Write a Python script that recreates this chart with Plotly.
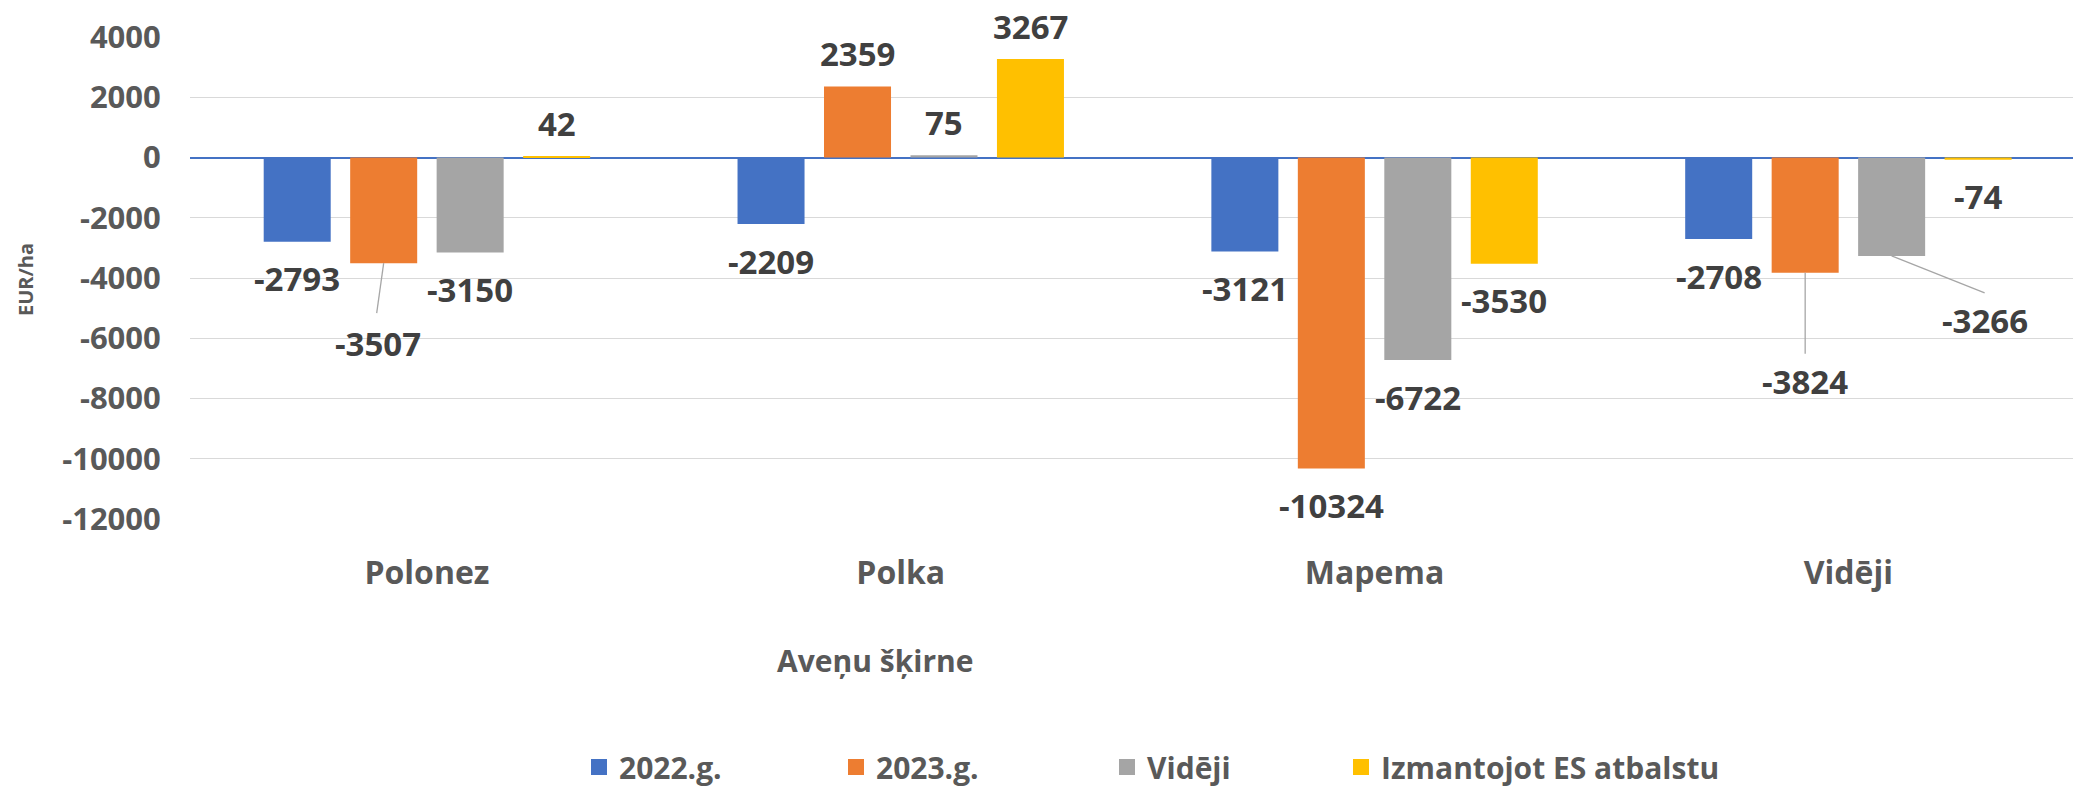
import plotly.graph_objects as go

categories = ["Polonez", "Polka", "Mapema", "Vidēji"]
series_names = ["2022.g.", "2023.g.", "Vidēji", "Izmantojot ES atbalstu"]
v_2022 = [-2793, -2209, -3121, -2708]
v_2023 = [-3507, 2359, -10324, -3824]
v_videji = [-3150, 75, -6722, -3266]
v_es = [42, 3267, -3530, -74]
y_ticks = [4000, 2000, 0, -2000, -4000, -6000, -8000, -10000, -12000]
y_tick_labels = [str(v) for v in y_ticks]

series_values = [v_2022, v_2023, v_videji, v_es]
colors = ["#4472C4", "#ED7D31", "#A5A5A5", "#FFC000"]

W, H = 2073, 787
ML, MR, MT, MB = 190, 0, 37, 268
PW, PH = W - ML - MR, H - MT - MB
BARGAP = 0.27
BARGROUPGAP = 0.225
n_series = len(series_values)
slot = (1 - BARGAP) / n_series


def px_to_paper(px, py):
    return (px - ML) / PW, (H - MB - py) / PH


# legend symbol centres (px) and vertical centre
legend_x_px = [598, 855, 1126, 1360]
legend_y_px = 767
LEGEND_SYMBOL_OFFSET = 19

# custom label placement (pixel offsets) for labels with leader lines
special = {
    (1, 0): dict(xshift=-6, yshift=-80, line=(0, 0, -7, -50)),
    (1, 3): dict(xshift=0, yshift=-109, line=(0, 0, 0, -81)),
    (2, 3): dict(xshift=93, yshift=-65, line=(0, 0, 93, -37)),
}

legend_font = dict(family="Open Sans", size=30, color="#595959", weight=700)

fig = go.Figure()
legend_layouts = {}
for k, (name, vals) in enumerate(zip(series_names, series_values)):
    fig.add_trace(go.Bar(
        x=categories, y=vals, name=name, marker_color=colors[k],
        marker_line_width=0, showlegend=False,
    ))
    lname = "legend" if k == 0 else f"legend{k + 1}"
    fig.add_trace(go.Scatter(
        x=[None], y=[None], mode="markers", name=name,
        marker=dict(symbol="square", size=19, color=colors[k]),
        showlegend=True, legend=lname,
    ))
    legend_layouts[lname] = dict(
        orientation="h", xref="container", yref="container",
        x=(legend_x_px[k] - LEGEND_SYMBOL_OFFSET) / W, xanchor="left",
        y=1 - legend_y_px / H, yanchor="middle",
        font=legend_font, itemwidth=30, bgcolor="rgba(0,0,0,0)",
    )

label_font = dict(family="Open Sans", size=33, color="#404040", weight=700)
annotations = []
shapes = []
for k, vals in enumerate(series_values):
    for i, v in enumerate(vals):
        xpos = i + (k - (n_series - 1) / 2) * slot
        if (k, i) in special:
            sp = special[(k, i)]
            xs, ys = sp["xshift"], sp["yshift"]
            x0, y0, x1, y1 = sp["line"]
            shapes.append(dict(
                type="line", xref="x", yref="y",
                xsizemode="pixel", ysizemode="pixel",
                xanchor=xpos, yanchor=v,
                x0=x0, y0=y0, x1=x1, y1=y1,
                line=dict(color="#A6A6A6", width=1.3),
            ))
        else:
            xs = 0
            ys = 33 if v >= 0 else -37
        annotations.append(dict(
            x=xpos, y=v, xref="x", yref="y", text=str(v),
            showarrow=False, xanchor="center", yanchor="middle",
            xshift=xs, yshift=ys, font=label_font,
        ))

tx, ty = px_to_paper(25, 280)
annotations.append(dict(
    text="EUR/ha", xref="paper", yref="paper", x=tx, y=ty,
    textangle=-90, showarrow=False, xanchor="center", yanchor="middle",
    font=dict(family="Open Sans", size=20, color="#595959", weight=700),
))
tx, ty = px_to_paper(875, 660)
annotations.append(dict(
    text="Aveņu šķirne", xref="paper", yref="paper", x=tx, y=ty,
    showarrow=False, xanchor="center", yanchor="middle",
    font=dict(family="Open Sans", size=30, color="#595959", weight=700),
))

fig.update_layout(
    width=W, height=H,
    margin=dict(l=ML, r=MR, t=MT, b=MB, pad=0, autoexpand=False),
    paper_bgcolor="white", plot_bgcolor="white",
    barmode="group", bargap=BARGAP, bargroupgap=BARGROUPGAP,
    annotations=annotations, shapes=shapes,
    xaxis=dict(
        type="category", range=[-0.5, 3.474],
        showgrid=False, showline=False, zeroline=False,
        ticks="outside", ticklen=26, tickcolor="rgba(0,0,0,0)",
        tickfont=dict(family="Open Sans", size=32, color="#595959", weight=700),
    ),
    yaxis=dict(
        range=[-12000, 4000], tickvals=y_ticks, ticktext=y_tick_labels,
        showgrid=True, gridcolor="#D9D9D9", gridwidth=1.3,
        zeroline=True, zerolinecolor="#4472C4", zerolinewidth=1.8,
        showline=False,
        ticks="outside", ticklen=22, tickcolor="rgba(0,0,0,0)",
        tickfont=dict(family="Open Sans", size=31, color="#595959", weight=700),
    ),
    **legend_layouts,
)

fig.write_html(
    "out.html",
    config={"displayModeBar": False},
    post_script="document.body.style.margin='0';document.body.style.overflow='hidden';",
)
